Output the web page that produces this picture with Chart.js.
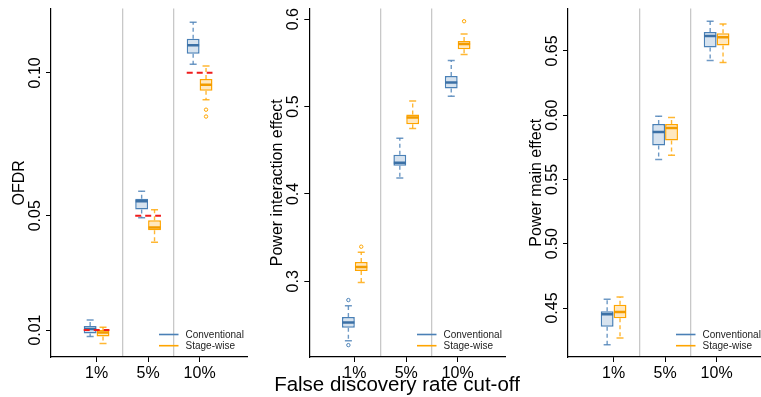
<!DOCTYPE html>
<html><head><meta charset="utf-8">
<script src="https://cdn.jsdelivr.net/npm/chart.js@4/dist/chart.umd.min.js"></script>
<style>
html,body{margin:0;padding:0;width:761px;height:397px;overflow:hidden;background:#fff;}
canvas{position:absolute;top:0;}
#xt{position:absolute;left:197px;width:400px;top:373.5px;text-align:center;font:20.5px/20.5px "Liberation Sans",Arial,sans-serif;color:#000;white-space:nowrap;}
</style></head><body>
<canvas id="c1" width="256" height="397" style="left:0px"></canvas>
<canvas id="c2" width="262" height="397" style="left:252px"></canvas>
<canvas id="c3" width="263" height="397" style="left:510px"></canvas>
<div id="xt">False discovery rate cut-off</div>
<script>
// ---------- data ----------
const categories = ['1%', '5%', '10%'];
const catPositions = [1, 2, 3];
const seriesNames = ['Conventional', 'Stage-wise'];

// each entry: [lower whisker, Q1, median, Q3, upper whisker]
const ofdrConventional = [[0.0077, 0.0088, 0.0104, 0.0114, 0.0135], [0.0493, 0.0522, 0.0551, 0.0559, 0.0586], [0.1030, 0.1067, 0.1096, 0.1119, 0.1177]];
const ofdrStagewise    = [[0.0053, 0.0077, 0.0091, 0.0100, 0.0110], [0.0407, 0.0449, 0.0459, 0.0484, 0.0521], [0.0906, 0.0937, 0.0958, 0.0978, 0.1024]];
const ofdrConvOutliers  = [[], [], []];
const ofdrStageOutliers = [[], [], [0.0871, 0.0847]];
const ofdrTargets = [0.01, 0.05, 0.10];
const ofdrTicks = [0.01, 0.05, 0.10];
const ofdrTickLabels = ['0.01', '0.05', '0.10'];

const interConventional = [[0.2320, 0.2468, 0.2529, 0.2590, 0.2720], [0.4182, 0.4324, 0.4358, 0.4450, 0.4637], [0.5118, 0.5206, 0.5275, 0.5351, 0.5527]];
const interStagewise    = [[0.2987, 0.3117, 0.3163, 0.3220, 0.3331], [0.4748, 0.4797, 0.4874, 0.4908, 0.5064], [0.5596, 0.5656, 0.5717, 0.5751, 0.5832]];
const interConvOutliers  = [[0.2785, 0.2269], [], []];
const interStageOutliers = [[0.3396], [], [0.5977]];
const interTicks = [0.3, 0.4, 0.5, 0.6];
const interTickLabels = ['0.3', '0.4', '0.5', '0.6'];

const mainConventional = [[0.4215, 0.4355, 0.4451, 0.4474, 0.4568], [0.5655, 0.5764, 0.5870, 0.5932, 0.5992], [0.6425, 0.6526, 0.6617, 0.6648, 0.6731]];
const mainStagewise    = [[0.4267, 0.4420, 0.4469, 0.4526, 0.4586], [0.5689, 0.5803, 0.5901, 0.5932, 0.5982], [0.6410, 0.6542, 0.6607, 0.6638, 0.6710]];
const mainConvOutliers  = [[], [], []];
const mainStageOutliers = [[], [], []];
const mainTicks = [0.45, 0.50, 0.55, 0.60, 0.65];
const mainTickLabels = ['0.45', '0.50', '0.55', '0.60', '0.65'];

// ---------- styling ----------
const FONT = '"Liberation Sans", Arial, sans-serif';
Chart.defaults.font.family = FONT;
Chart.defaults.color = '#000';
const BLUE = {line: '#4a80b6', fill: '#d7e3ef', dark: '#3c71a6', whisk: 'rgba(74,128,182,0.8)'};
const ORANGE = {line: '#ffa500', fill: '#ffe8c0', dark: '#f29c00', whisk: 'rgba(255,165,0,0.8)'};
const OFF = 0.125;

function seriesDatasets(stats, outl, col, off, label) {
  const ds = [];
  ds.push({type: 'bar', label: label, order: 5,
    data: stats.map((s, i) => ({x: catPositions[i], y: [s[1], s[3]]})),
    backgroundColor: col.fill, borderColor: col.line, borderWidth: 1.5, borderSkipped: false,
    categoryPercentage: 0.5, barPercentage: 1, grouped: true});
  ds.push({type: 'line', label: label + ' whiskers', order: 6,
    data: stats.flatMap((s, i) => {
      const x = catPositions[i] + off;
      return [{x, y: s[3]}, {x, y: s[4]}, {x, y: null}, {x, y: s[1]}, {x, y: s[0]}, {x, y: null}];
    }),
    borderColor: col.whisk, borderWidth: 1.4, borderDash: [4, 3], pointRadius: 0, spanGaps: false, fill: false});
  ds.push({type: 'scatter', label: label + ' caps', order: 2,
    data: stats.flatMap((s, i) => [{x: catPositions[i] + off, y: s[0]}, {x: catPositions[i] + off, y: s[4]}]),
    pointStyle: 'line', pointRadius: 3.5, borderColor: col.whisk, borderWidth: 1.5});
  ds.push({type: 'scatter', label: label + ' median', order: 1,
    data: stats.map((s, i) => ({x: catPositions[i] + off, y: s[2]})),
    pointStyle: 'line', pointRadius: 6, borderColor: col.dark, borderWidth: 2.5});
  ds.push({type: 'scatter', label: label + ' outliers', order: 2,
    data: outl.flatMap((o, i) => o.map(v => ({x: catPositions[i] + off, y: v}))),
    pointStyle: 'circle', pointRadius: 1.7, borderColor: col.line, borderWidth: 1, backgroundColor: 'rgba(255,255,255,0)'});
  return ds;
}

const annotate = {
  id: 'annotate',
  afterDraw(chart) {
    const o = chart.options.plugins.annotate;
    const ctx = chart.ctx, y = chart.scales.y, a = chart.chartArea;
    ctx.save();
    ctx.fillStyle = '#000';
    ctx.font = '16px ' + FONT;
    ctx.textAlign = 'center';
    ctx.textBaseline = 'alphabetic';
    o.ticks.forEach((v, i) => {
      ctx.save();
      ctx.translate(a.left - 11, y.getPixelForValue(v));
      ctx.rotate(-Math.PI / 2);
      ctx.fillText(o.tickLabels[i], 0, 0);
      ctx.restore();
    });
    ctx.save();
    ctx.translate(a.left - 27, (a.top + a.bottom) / 2);
    ctx.rotate(-Math.PI / 2);
    ctx.fillText(o.title, 0, 0);
    ctx.restore();
    // legend
    ctx.font = '10px ' + FONT;
    ctx.textAlign = 'left';
    ctx.textBaseline = 'middle';
    [[BLUE, seriesNames[0], a.bottom - 22.5], [ORANGE, seriesNames[1], a.bottom - 11.3]].forEach(([c, t, yy]) => {
      ctx.strokeStyle = c.line; ctx.lineWidth = 1.6;
      ctx.beginPath(); ctx.moveTo(a.right - 88.5, yy); ctx.lineTo(a.right - 69, yy); ctx.stroke();
      ctx.fillStyle = '#222';
      ctx.fillText(t, a.right - 62, yy + 0.5);
    });
    ctx.restore();
  }
};

function makePanel(id, yWidth, padRight, yMin, yMax, ticks, tickLabels, title, conv, stage, convOut, stageOut, targets) {
  const datasets = [
    ...seriesDatasets(conv, convOut, BLUE, -OFF, seriesNames[0]),
    ...seriesDatasets(stage, stageOut, ORANGE, OFF, seriesNames[1])
  ];
  if (targets) {
    datasets.push({type: 'line', label: 'target', order: 0,
      data: targets.flatMap((t, i) => [{x: catPositions[i] - 0.25, y: t}, {x: catPositions[i] + 0.25, y: t}, {x: catPositions[i], y: null}]),
      borderColor: '#f01c1c', borderWidth: 2, borderDash: [6, 4], pointRadius: 0, spanGaps: false, fill: false});
  }
  return new Chart(document.getElementById(id), {
    type: 'bar',
    data: {datasets},
    plugins: [annotate],
    options: {
      responsive: false, animation: false, events: [],
      layout: {padding: {top: 8.3, right: padRight, bottom: 0, left: 0}},
      plugins: {legend: {display: false}, tooltip: {enabled: false},
        annotate: {ticks, tickLabels, title}},
      scales: {
        x: {type: 'linear', position: 'bottom', min: 0.115, max: 3.93, offset: false,
          afterBuildTicks: s => { s.ticks = catPositions.map(v => ({value: v})); },
          afterFit: s => { s.height = 40; },
          ticks: {callback: (v, i) => categories[i], font: {size: 16}, color: '#000', padding: 2, maxRotation: 0, autoSkip: false},
          grid: {display: true, offset: false, drawOnChartArea: false, drawTicks: true, tickLength: 5, color: '#000', lineWidth: 1},
          border: {display: true, color: '#000', width: 1.2}},
        xg: {type: 'linear', position: 'bottom', min: 0.115, max: 3.93, offset: false,
          afterBuildTicks: s => { s.ticks = [{value: 1.5}, {value: 2.5}]; },
          afterFit: s => { s.height = 0; },
          ticks: {display: false},
          grid: {display: true, offset: false, drawOnChartArea: true, drawTicks: false, color: '#c8c8c8', lineWidth: 1.3},
          border: {display: false}},
        y: {type: 'linear', position: 'left', min: yMin, max: yMax,
          afterBuildTicks: s => { s.ticks = ticks.map(v => ({value: v})); },
          afterFit: s => { s.width = yWidth; },
          ticks: {display: false},
          grid: {display: true, drawOnChartArea: false, drawTicks: true, tickLength: 5, color: '#000', lineWidth: 1},
          border: {display: true, color: '#000', width: 1.2}}
      }
    }
  });
}

makePanel('c1', 51, 6.6, 0.00057, 0.1225, ofdrTicks, ofdrTickLabels, 'OFDR',
  ofdrConventional, ofdrStagewise, ofdrConvOutliers, ofdrStageOutliers, ofdrTargets);
makePanel('c2', 57.3, 6.3, 0.2133, 0.6123, interTicks, interTickLabels, 'Power interaction effect',
  interConventional, interStagewise, interConvOutliers, interStageOutliers, null);
makePanel('c3', 58, 6.6, 0.4119, 0.6830, mainTicks, mainTickLabels, 'Power main effect',
  mainConventional, mainStagewise, mainConvOutliers, mainStageOutliers, null);
</script>
</body></html>
